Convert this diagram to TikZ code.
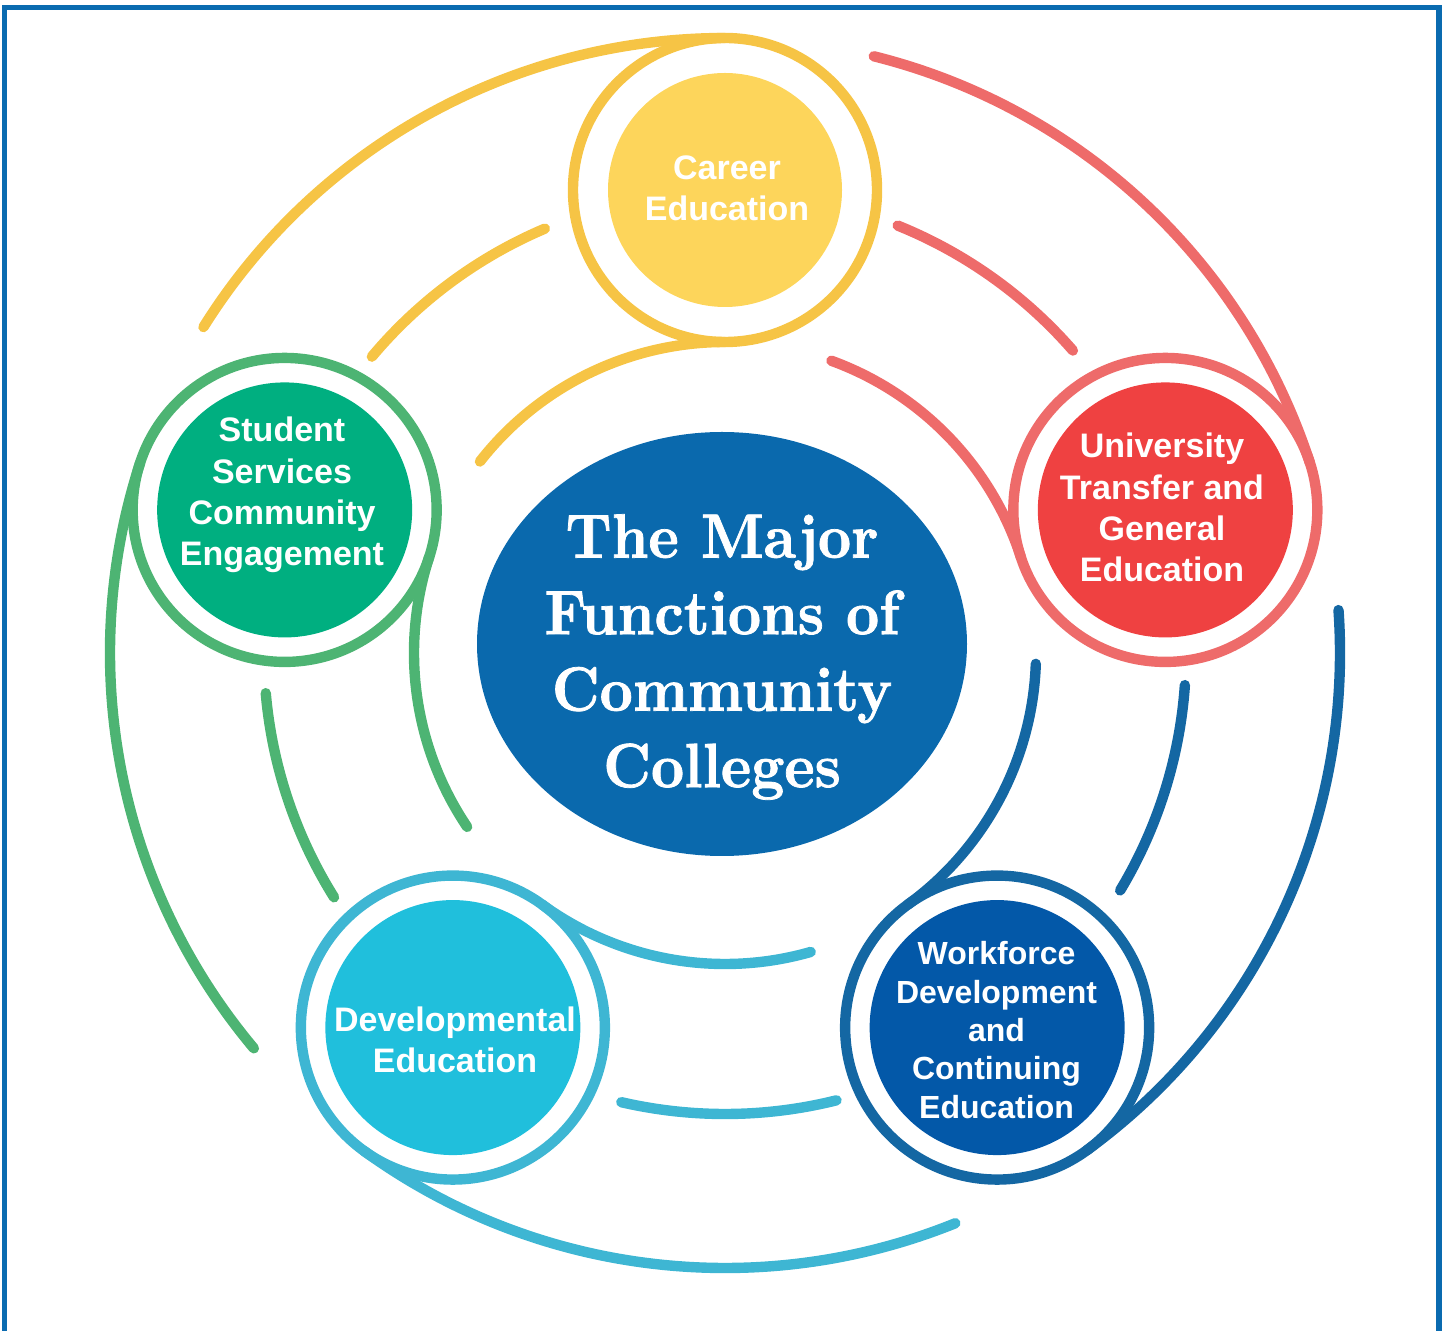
\documentclass[tikz,border=0pt]{standalone}
\usepackage{fontspec}
\setsansfont{Liberation Sans}
\newfontfamily\titlefont{lmroman10-bold}[Extension=.otf, FakeStretch=0.92, FakeBold=1.2]
\usetikzlibrary{calc,shapes.geometric}
\definecolor{YL}{HTML}{F6C445}
\definecolor{YF}{HTML}{FDD55B}
\definecolor{RL}{HTML}{EE6B6A}
\definecolor{RF}{HTML}{EF4141}
\definecolor{GL}{HTML}{4DB473}
\definecolor{GF}{HTML}{00AF80}
\definecolor{CL}{HTML}{3EB6D3}
\definecolor{CF}{HTML}{20BFDC}
\definecolor{BL}{HTML}{1467A3}
\definecolor{BF}{HTML}{0358A8}
\definecolor{CE}{HTML}{0A69AD}
\definecolor{FR}{HTML}{0A6BB0}
\tikzset{
  swoosh/.style={line width=5.2pt, line cap=round},
  bubble/.style={circle, inner sep=0pt, minimum size=127.5pt, draw=none},
  bubtext/.style={text=white, align=center, font=\sffamily\bfseries\fontsize{17}{20.6}\selectfont, inner sep=0pt},
}
\begin{document}
\begin{tikzpicture}[x=0.5pt,y=-0.5pt]
\useasboundingbox (0,0) rectangle (1442,1331);
% frame
\draw[FR, line width=2.6pt] (4.5,1335) -- (4.5,7.5) -- (1439,7.5) -- (1439,1335);
\coordinate (O) at (725,653);
% bubbles
\node[bubble, fill=YF, minimum size=117pt] (career) at ($(O)+(-90:463)$) {};
\node[bubble, fill=RF] (univ) at ($(O)+(-18:463)$) {};
\node[bubble, fill=GF] (student) at ($(O)+(-162:463)$) {};
\node[bubble, fill=CF] (dev) at ($(O)+(-234:463)$) {};
\node[bubble, fill=BF] (work) at ($(O)+(-306:463)$) {};
% rings and swooshes
\foreach \t/\c/\n in {90/YL/career,18/RL/univ,162/GL/student,234/CL/dev,306/BL/work}{
  \draw[swoosh, draw=\c] (\n) circle[radius=152];
  \draw[swoosh, draw=\c] ($(O)+(-\t:615)$) arc[start angle=-\t, end angle=-\t-58, radius=615];
  \draw[swoosh, draw=\c] ($(O)+(-\t:311)$) arc[start angle=-\t, end angle=-\t-52, radius=311];
  \draw[swoosh, draw=\c] ($(O)+(-\t-23:461)$) arc[start angle=-\t-23, end angle=-\t-50, radius=461];
}
% centre
\node[ellipse, fill=CE, inner sep=0pt, minimum width=245pt, minimum height=212pt] (hub) at (722,644) {};
\node[text=white, align=center, inner sep=0pt, font=\titlefont\fontsize{31.3}{38.25}\selectfont] (title) at (722,657)
  {The Major\\Functions of\\Community\\Colleges};
% labels
\node[bubtext] (careert) at (727,188) {Career\\Education};
\node[bubtext] (univt) at (1162,507.5) {University\\Transfer and\\General\\Education};
\node[bubtext] (studentt) at (282,495) {Student\\Services\\Community\\Engagement};
\node[bubtext] (devt) at (455,1040) {Developmental\\Education};
\node[bubtext, font=\sffamily\bfseries\fontsize{16}{19.2}\selectfont] (workt) at (996.5,1030) {Workforce\\Development\\and\\Continuing\\Education};
\end{tikzpicture}
\end{document}
